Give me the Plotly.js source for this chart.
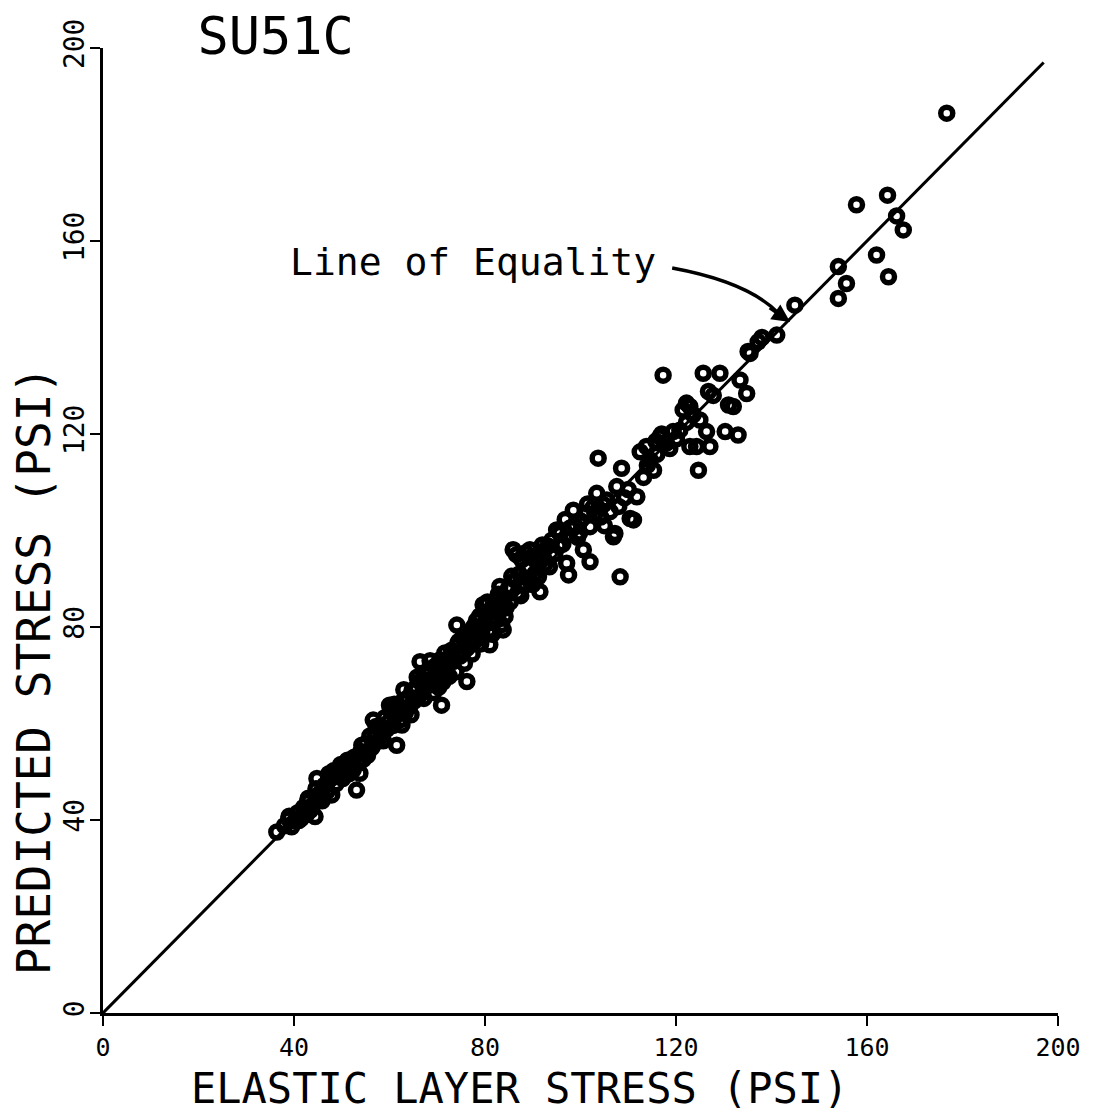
<!DOCTYPE html>
<html>
<head>
<meta charset="utf-8">
<script src="https://cdn.plot.ly/plotly-3.0.1.min.js"></script>
<style>html,body{margin:0;padding:0;background:#fff;}#chart{width:1109px;height:1113px;}</style>
</head>
<body>
<div id="chart"></div>
<script>
// Elastic layer stress (x) vs predicted stress (y), psi
const elasticStress = [
36.4,38.0,38.9,39.5,40.2,40.8,41.5,42.0,42.6,43.0,43.4,44.0,44.4,44.8,45.3,45.9,46.4,47.0,47.6,47.9,
48.3,48.8,49.2,49.8,50.2,50.7,51.2,51.6,52.1,52.6,53.1,53.8,53.5,54.0,54.5,55.0,55.4,55.9,56.3,56.6,
57.0,57.5,58.0,58.5,59.0,59.4,59.9,60.3,60.8,61.5,61.3,61.8,62.3,62.6,62.8,63.3,63.8,64.2,64.7,65.1,
65.6,66.0,66.4,66.5,67.0,67.4,67.9,68.3,68.8,69.2,69.7,70.1,70.6,70.9,71.2,71.6,72.1,72.5,73.0,73.4,
73.9,74.1,74.3,74.8,75.3,75.7,76.2,76.2,76.7,77.1,77.6,78.0,78.5,78.9,79.4,79.6,79.9,80.3,80.8,81.0,
81.2,81.7,82.1,82.6,83.0,83.1,83.5,83.8,84.0,84.4,84.9,85.3,85.9,86.3,86.6,86.8,87.2,87.7,88.2,88.7,
89.2,89.4,89.8,90.4,91.2,91.2,91.5,91.8,92.5,93.2,94.0,94.6,95.0,95.7,96.3,97.1,97.5,97.8,98.5,98.8,
99.4,100.0,100.6,101.2,102.0,102.0,102.7,103.4,103.7,104.2,104.8,105.5,106.2,106.9,107.2,107.6,108.3,108.6,109.2,110.0,
110.4,111.1,111.8,112.5,113.2,114.0,114.6,115.3,116.0,116.6,117.3,117.6,118.0,118.7,119.4,120.1,120.8,121.5,122.2,122.2,
122.9,122.9,123.6,124.3,124.7,125.0,125.7,126.4,126.8,127.1,127.8,129.2,130.3,131.0,132.0,133.0,133.4,134.8,135.1,135.5,
137.2,138.0,141.1,144.9,154.0,154.0,155.7,157.8,162.0,164.3,164.5,166.2,167.6,176.7,
39.0,41.0,42.8,44.6,46.0,47.3,49.5,51.0,52.4,54.2,55.6,57.2,58.7,60.0,61.0,62.0,63.0,64.5,65.8,67.2,
68.5,69.5,70.3,71.8,72.8,74.5,75.5,77.3,78.2,79.1,80.5,81.5,82.8,84.2,85.6,87.5,88.5,90.0,92.0,93.5,
95.5,96.8,99.8,101.5,103.0,105.0,108.0,113.8,115.8,117.0
];
const predictedStress = [
37.5,38.8,40.2,38.6,39.8,41.5,40.3,42.6,41.2,44.5,42.0,43.1,40.7,48.6,45.4,44.0,47.2,46.0,48.5,45.2,
50.2,47.5,49.0,51.5,48.6,50.3,52.4,49.6,51.2,53.0,46.2,49.7,51.8,54.2,52.6,55.8,53.4,57.4,55.0,60.7,
58.2,56.3,59.5,57.6,61.2,58.8,60.3,62.5,59.6,55.5,61.7,63.4,60.8,59.7,64.6,62.2,65.3,63.5,66.8,64.6,
67.5,65.4,72.8,68.8,66.5,70.2,67.8,71.3,69.0,66.4,72.0,70.5,73.2,63.8,68.6,74.6,71.8,69.8,75.2,72.9,
70.7,80.4,76.6,74.0,77.8,72.5,68.7,75.6,78.8,76.4,80.0,77.3,79.6,82.3,78.4,84.6,80.8,83.0,79.2,76.3,
81.7,84.5,82.0,85.7,83.2,88.4,80.5,79.4,86.2,84.0,88.0,85.2,96.0,89.7,95.0,87.0,91.0,93.9,88.6,92.2,
89.8,96.0,94.5,91.0,93.9,90.4,87.3,95.6,93.0,96.8,98.0,95.2,100.1,99.4,97.2,93.2,90.8,100.5,104.2,101.1,
98.6,102.0,96.0,103.6,100.8,93.5,104.9,107.7,115.0,102.8,105.4,106.3,103.9,98.7,99.4,109.1,90.4,112.9,106.8,108.5,
102.5,102.2,107.0,116.3,111.0,113.5,114.6,112.5,115.8,119.4,132.2,118.2,118.1,117.0,120.5,119.0,120.8,125.0,122.4,126.4,
117.4,125.7,124.0,117.4,112.5,122.9,132.6,120.5,128.8,117.4,128.0,132.6,120.5,126.0,125.7,119.8,131.2,128.4,137.1,136.7,
139.1,140.0,140.5,146.7,148.1,154.7,151.2,167.5,157.1,169.5,152.6,165.2,162.3,186.5,
40.8,39.9,43.8,46.5,45.0,49.6,50.6,52.0,50.4,55.5,54.3,59.4,56.4,63.8,64.0,62.8,67.0,61.8,69.6,65.2,
73.0,68.2,67.5,70.5,73.8,77.0,74.8,74.4,81.3,76.5,85.2,78.5,86.8,82.2,90.5,86.5,95.4,88.8,97.0,92.5,
96.8,102.3,99.5,105.5,103.5,101.0,105.0,117.4,118.5,120.0
];
// Line of equality
const equalityX = [0, 197];
const equalityY = [0, 197];
// Axis ticks
const tickValues = [0, 40, 80, 120, 160, 200];
const tickLabels = ['0', '40', '80', '120', '160', '200'];

const mono = 'DejaVu Sans Mono, Liberation Mono, monospace';

const traces = [
  {
    x: equalityX, y: equalityY, type: 'scatter', mode: 'lines',
    line: {color: '#000', width: 3}, hoverinfo: 'skip', showlegend: false
  },
  {
    x: elasticStress, y: predictedStress, type: 'scatter', mode: 'markers',
    marker: {symbol: 'circle-open', size: 12, color: '#000', line: {color: '#000', width: 5.5}},
    showlegend: false
  }
];

const axisCommon = {
  range: [0, 200], autorange: false,
  tickmode: 'array', tickvals: tickValues, ticktext: tickLabels,
  showgrid: false, zeroline: false,
  showline: true, linecolor: '#000', linewidth: 3,
  ticks: 'outside', ticklen: 10, tickwidth: 2, tickcolor: '#000'
};

const layout = {
  width: 1109, height: 1113,
  paper_bgcolor: '#fff', plot_bgcolor: '#fff',
  margin: {l: 103, r: 51, t: 48, b: 100},
  title: {
    text: 'SU51C', font: {family: mono, size: 52, color: '#000'},
    xref: 'container', yref: 'container', x: 0.178, xanchor: 'left', y: 0.968, yanchor: 'middle'
  },
  xaxis: Object.assign({}, axisCommon, {
    tickfont: {family: mono, size: 25, color: '#000'}
  }),
  yaxis: Object.assign({}, axisCommon, {
    tickangle: -90,
    ticklabelstandoff: -5,
    tickfont: {family: mono, size: 28, color: '#000'}
  }),
  shapes: [
    {
      type: 'path', xref: 'x', yref: 'y',
      path: 'M 119.2,154.4 Q 135.1,151.5 141.5,145.0',
      line: {color: '#000', width: 3.5}
    }
  ],
  annotations: [
    {
      text: 'ELASTIC LAYER STRESS (PSI)', xref: 'paper', yref: 'paper',
      x: 0.4366, y: -0.078, xanchor: 'center', yanchor: 'middle', showarrow: false,
      font: {family: mono, size: 42, color: '#000'}
    },
    {
      text: 'PREDICTED STRESS (PSI)', xref: 'paper', yref: 'paper',
      x: -0.072, y: 0.3544, xanchor: 'center', yanchor: 'middle', showarrow: false,
      textangle: -90,
      font: {family: mono, size: 46, color: '#000'}
    },
    {
      text: 'Line of Equality', x: 38.7, y: 155.6, xref: 'x', yref: 'y',
      xanchor: 'left', yanchor: 'middle', showarrow: false,
      font: {family: mono, size: 38, color: '#000'}
    },
    {
      text: '', x: 143.9, y: 143.2, xref: 'x', yref: 'y',
      showarrow: true, arrowhead: 2, arrowsize: 1.2, arrowwidth: 3, arrowcolor: '#000',
      ax: -22, ay: -15, axref: 'pixel', ayref: 'pixel'
    }
  ]
};

Plotly.newPlot('chart', traces, layout, {displayModeBar: false, staticPlot: true});
</script>
</body>
</html>
